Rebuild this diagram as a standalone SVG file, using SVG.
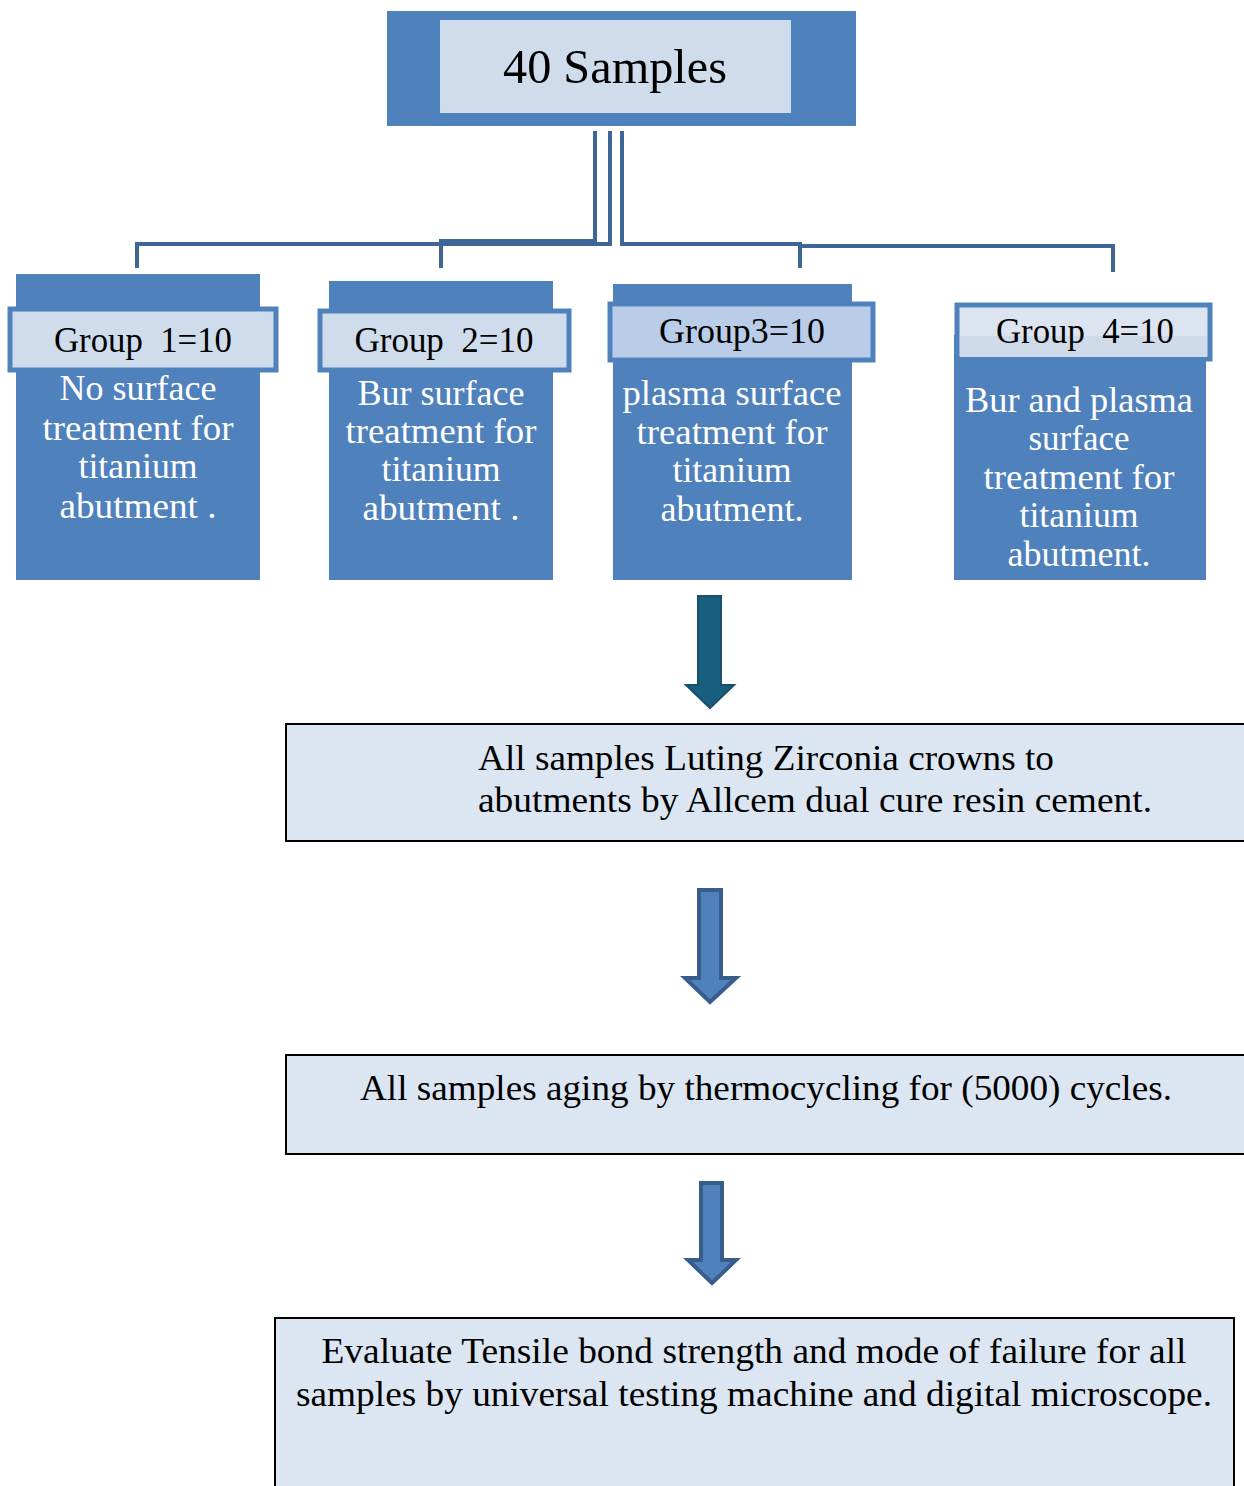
<svg xmlns="http://www.w3.org/2000/svg" width="1244" height="1486" viewBox="0 0 1244 1486">
<style>
.blue{fill:#4f81bd}
.hdr{stroke:#4f81bd;stroke-width:5}
text{font-family:"Liberation Serif","Times New Roman",serif}
.t{text-anchor:middle}
.w{fill:#ffffff;font-size:35px}
.k{fill:#000000}
.box{fill:#dce6f2;stroke:#000;stroke-width:2}
.conn{fill:none;stroke:#3d6595;stroke-width:4}
.arr{fill:#4f81bd;stroke:#385d8a;stroke-width:4}
</style>
<rect width="1244" height="1486" fill="#ffffff"/>
<g id="connectors">
<path class="conn" d="M595,131 V241 H441 V268"/>
<path class="conn" d="M610,131 V244 H137 V268"/>
<path class="conn" d="M622,131 V244 H800 V268"/>
<path class="conn" d="M800,246 H1113 V272"/>
<path id="arrow1" d="M698,596 H721 V685 H734 L710,708 L686,685 H698 Z" fill="#175e7f" stroke="#1b4f6b" stroke-width="2"/>
<path id="arrow2" class="arr" d="M699,890 H721 V978 H736 L710,1002 L685,978 H699 Z"/>
<path id="arrow3" class="arr" d="M701,1183 H722 V1260 H736 L712,1283 L688,1260 H701 Z"/>
</g>
<g id="node-samples" font-family="Liberation Serif, serif">
<rect class="blue" x="387" y="11" width="469" height="115"/>
<rect x="440" y="20" width="351" height="93" fill="#cfdcec"/>
<text class="t k" x="615" y="83" font-size="48" textLength="224" lengthAdjust="spacingAndGlyphs">40 Samples</text>
</g>
<g id="node-group1" font-family="Liberation Serif, serif">
<rect class="blue" x="16" y="274" width="244" height="306"/>
<rect class="hdr" x="10" y="309" width="266" height="61" fill="#cfdcec"/>
<text class="t k" x="143" y="352" font-size="36" textLength="178" lengthAdjust="spacingAndGlyphs" xml:space="preserve">Group  1=10</text>
<text class="t w" x="138" y="400" textLength="157" lengthAdjust="spacingAndGlyphs">No surface</text>
<text class="t w" x="138" y="440" textLength="191" lengthAdjust="spacingAndGlyphs">treatment for</text>
<text class="t w" x="138" y="478" textLength="119" lengthAdjust="spacingAndGlyphs">titanium</text>
<text class="t w" x="138" y="518" textLength="157" lengthAdjust="spacingAndGlyphs">abutment .</text>
</g>
<g id="node-group2" font-family="Liberation Serif, serif">
<rect class="blue" x="329" y="281" width="224" height="299"/>
<rect class="hdr" x="320" y="311" width="249" height="59" fill="#cfdcec"/>
<text class="t k" x="444" y="352" font-size="36" textLength="179" lengthAdjust="spacingAndGlyphs" xml:space="preserve">Group  2=10</text>
<text class="t w" x="441" y="405" textLength="167" lengthAdjust="spacingAndGlyphs">Bur surface</text>
<text class="t w" x="441" y="443" textLength="191" lengthAdjust="spacingAndGlyphs">treatment for</text>
<text class="t w" x="441" y="481" textLength="119" lengthAdjust="spacingAndGlyphs">titanium</text>
<text class="t w" x="441" y="520" textLength="157" lengthAdjust="spacingAndGlyphs">abutment .</text>
</g>
<g id="node-group3" font-family="Liberation Serif, serif">
<rect class="blue" x="613" y="284" width="239" height="296"/>
<rect class="hdr" x="610" y="304" width="263" height="56" fill="#b9cde8"/>
<text class="t k" x="742" y="343" font-size="36" textLength="166" lengthAdjust="spacingAndGlyphs">Group3=10</text>
<text class="t w" x="732" y="405" textLength="219" lengthAdjust="spacingAndGlyphs">plasma surface</text>
<text class="t w" x="732" y="444" textLength="191" lengthAdjust="spacingAndGlyphs">treatment for</text>
<text class="t w" x="732" y="482" textLength="119" lengthAdjust="spacingAndGlyphs">titanium</text>
<text class="t w" x="732" y="521" textLength="143" lengthAdjust="spacingAndGlyphs">abutment.</text>
</g>
<g id="node-group4" font-family="Liberation Serif, serif">
<rect class="blue" x="954" y="335" width="252" height="245"/>
<rect class="hdr" x="957" y="305" width="253" height="54" fill="#dce4f0"/>
<rect x="960" y="336" width="247" height="21" fill="#d0dbea"/>
<text class="t k" x="1085" y="343" font-size="36" textLength="178" lengthAdjust="spacingAndGlyphs" xml:space="preserve">Group  4=10</text>
<text class="t w" x="1079" y="412" textLength="228" lengthAdjust="spacingAndGlyphs">Bur and plasma</text>
<text class="t w" x="1079" y="450" textLength="101" lengthAdjust="spacingAndGlyphs">surface</text>
<text class="t w" x="1079" y="489" textLength="191" lengthAdjust="spacingAndGlyphs">treatment for</text>
<text class="t w" x="1079" y="527" textLength="119" lengthAdjust="spacingAndGlyphs">titanium</text>
<text class="t w" x="1079" y="566" textLength="143" lengthAdjust="spacingAndGlyphs">abutment.</text>
</g>
<g id="node-luting">
<rect class="box" x="286" y="724" width="962" height="117"/>
<text class="k" font-size="35" x="478" y="770" textLength="576" lengthAdjust="spacingAndGlyphs">All samples Luting Zirconia crowns to</text>
<text class="k" font-size="35" x="478" y="812" textLength="674" lengthAdjust="spacingAndGlyphs">abutments by Allcem dual cure resin cement.</text>
</g>
<g id="node-aging">
<rect class="box" x="286" y="1055" width="962" height="99"/>
<text class="t k" font-size="35" x="766" y="1100" textLength="812" lengthAdjust="spacingAndGlyphs">All samples aging by thermocycling for (5000) cycles.</text>
</g>
<g id="node-evaluate">
<rect class="box" x="275" y="1318" width="959" height="180"/>
<text class="t k" font-size="35" x="754" y="1363" textLength="865" lengthAdjust="spacingAndGlyphs">Evaluate Tensile bond strength and mode of failure for all</text>
<text class="t k" font-size="35" x="754" y="1406" textLength="916" lengthAdjust="spacingAndGlyphs">samples by universal testing machine and digital microscope.</text>
</g>
</svg>
